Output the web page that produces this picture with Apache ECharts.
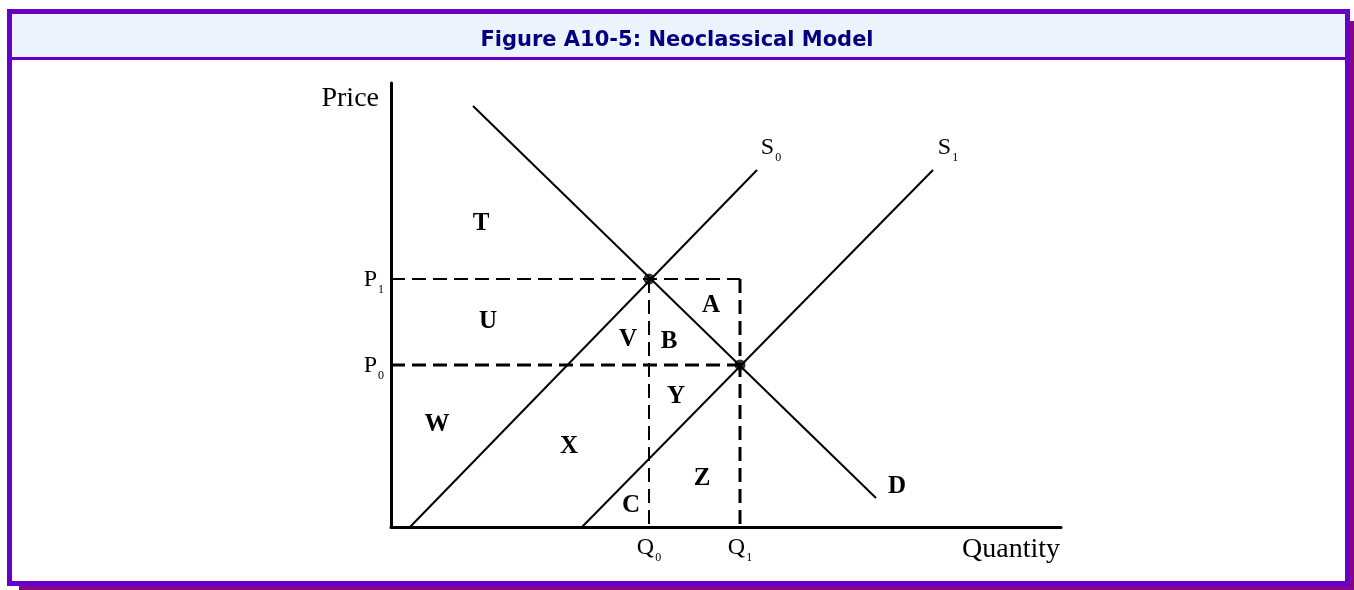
<!DOCTYPE html>
<html>
<head>
<meta charset="utf-8">
<script src="https://cdn.jsdelivr.net/npm/echarts@6.0.0/dist/echarts.min.js"></script>
<style>
  html, body { margin: 0; padding: 0; background: #fff; }
  .frame {
    position: absolute; left: 7px; top: 9px; width: 1343px; height: 577px;
    box-sizing: border-box; border: 5px solid #6600c8;
    box-shadow: 8px 8px 0 -4px #85068c; background: #fff;
  }
  .band {
    position: absolute; left: 0; top: 0; right: 0; height: 43px;
    background: #ebf3fd; border-bottom: 3px solid #6600c8;
  }
  #chart { position: absolute; left: 0; top: 0; width: 1354px; height: 590px; }
</style>
</head>
<body>
<div class="frame"><div class="band"></div></div>
<div id="chart"></div>
<script>
// curves (quantity, price)
const demandLine = [[82, 421], [485, 29]];
const supplyLine0 = [[19, 0], [366, 357]];
const supplyLine1 = [[191, 0], [542, 357]];
const equilibriumPoints = [[258, 248], [349, 162]];

// dashed guides
const guideP1 = [[0, 248], [349, 248]];
const guideQ1 = [[349, 248], [349, 0]];
const guideP0 = [[0, 162], [349, 162]];
const guideQ0 = [[258, 248], [258, 0]];

// ticks
const priceTicks = [162, 248];
const priceTickLabels = ['P0', 'P1'];
const quantityTicks = [258, 349];
const quantityTickLabels = ['Q0', 'Q1'];

// area letters
const areaNames = ['T', 'U', 'W', 'V', 'B', 'A', 'Y', 'X', 'C', 'Z', 'D'];
const areaPoints = [[90, 303], [97, 205], [46, 102], [237, 187], [278, 185], [320, 221],
                    [285, 130], [178, 80], [240, 21], [311, 48], [506, 40]];

// curve names
const curveNames = ['S0', 'S1'];
const curvePoints = [[380, 377], [557, 377]];

const serif = '"Liberation Serif", "Times New Roman", serif';

function sub(s) {
  return '{m|' + s.charAt(0) + '}{s|' + s.slice(1) + '}';
}
const subRich = {
  m: { fontSize: 24, fontFamily: serif, color: '#000', lineHeight: 28, verticalAlign: 'top' },
  s: { fontSize: 12, fontFamily: serif, color: '#000', lineHeight: 28, verticalAlign: 'bottom', padding: [0, 0, 0, 1] }
};

let Chart = echarts.init(document.getElementById('chart'));

function solid(data) {
  return { type: 'line', data: data, symbol: 'none', silent: true,
    lineStyle: { color: '#000', width: 2 } };
}
function dashed(data, w) {
  return { type: 'line', data: data, symbol: 'none', silent: true,
    lineStyle: { color: '#000', width: w, type: [14, 7] } };
}

let options = {
  backgroundColor: 'transparent',
  animation: false,
  title: {
    text: 'Figure A10-5: Neoclassical Model',
    left: 'center', top: 25,
    textStyle: { fontFamily: '"DejaVu Sans"', fontWeight: 'bold', fontSize: 21, color: '#000080' }
  },
  grid: { left: 391, top: 83, width: 670, height: 444, containLabel: false, outerBoundsMode: 'none' },
  xAxis: {
    type: 'value', min: 0, max: 670,
    axisLine: { lineStyle: { color: '#000', width: 3 } },
    axisTick: { show: false },
    splitLine: { show: false },
    axisLabel: {
      customValues: quantityTicks, margin: 9,
      formatter: function (v) {
        const i = quantityTicks.indexOf(v);
        return i < 0 ? '' : sub(quantityTickLabels[i]);
      },
      rich: subRich
    }
  },
  yAxis: {
    type: 'value', min: 0, max: 444,
    axisLine: { show: true, lineStyle: { color: '#000', width: 3 } },
    axisTick: { show: false },
    splitLine: { show: false },
    axisLabel: {
      customValues: priceTicks, margin: 7, padding: [6, 0, 0, 0],
      formatter: function (v) {
        const i = priceTicks.indexOf(v);
        return i < 0 ? '' : sub(priceTickLabels[i]);
      },
      rich: subRich
    }
  },
  graphic: [
    { type: 'text', x: 379, y: 99,
      style: { text: 'Price', font: '28px ' + serif, fill: '#000', align: 'right', verticalAlign: 'middle' } },
    { type: 'text', x: 1060, y: 550,
      style: { text: 'Quantity', font: '28px ' + serif, fill: '#000', align: 'right', verticalAlign: 'middle' } }
  ],
  series: [
    dashed(guideP1, 2),
    dashed(guideQ0, 2),
    dashed(guideP0, 3),
    dashed(guideQ1, 3),
    solid(demandLine),
    solid(supplyLine0),
    solid(supplyLine1),
    {
      type: 'scatter', data: equilibriumPoints, symbolSize: 11, silent: true,
      itemStyle: { color: '#000' }
    },
    {
      type: 'scatter', symbolSize: 0, silent: true, clip: false,
      itemStyle: { color: '#000' },
      data: areaPoints.map(function (p, i) { return { value: p, name: areaNames[i] }; }),
      label: {
        show: true, position: 'inside', formatter: '{b}',
        fontFamily: serif, fontWeight: 'bold', fontSize: 25, color: '#000',
        textBorderWidth: 0, textBorderColor: 'transparent', opacity: 1
      }
    },
    {
      type: 'scatter', symbolSize: 0, silent: true, clip: false,
      itemStyle: { color: '#000' },
      data: curvePoints.map(function (p, i) { return { value: p, name: curveNames[i] }; }),
      label: {
        show: true, position: 'inside', color: '#000',
        textBorderWidth: 0, textBorderColor: 'transparent', opacity: 1,
        formatter: function (p) { return sub(p.name); },
        rich: subRich
      }
    }
  ]
};
Chart.setOption(options);
</script>
</body>
</html>
